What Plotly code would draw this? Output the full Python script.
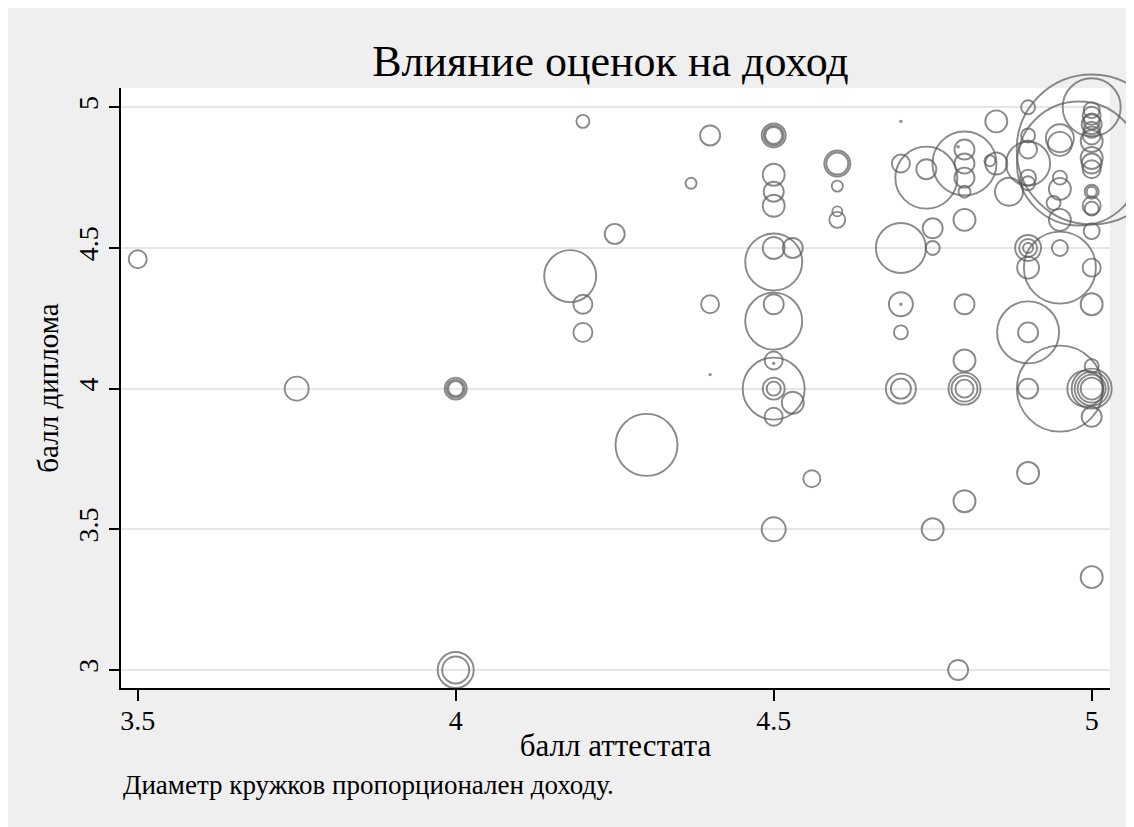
import plotly.graph_objects as go

# балл аттестата (x), балл диплома (y), доход (тыс. руб.)
attestat = [
    3.5, 3.75, 4.0, 4.0, 4.0, 4.0, 4.0, 4.18, 4.2, 4.2, 4.2, 4.25, 4.3, 4.37, 4.4, 4.4, 4.4,
    4.5, 4.5, 4.5, 4.5, 4.5, 4.5, 4.5, 4.53, 4.5, 4.5, 4.5, 4.5, 4.5, 4.5, 4.5, 4.5, 4.53, 4.5, 4.5, 4.56,
    4.6, 4.6, 4.6, 4.6, 4.6,
    4.7, 4.7, 4.7, 4.7, 4.7, 4.7, 4.7, 4.7, 4.74, 4.74, 4.75, 4.75, 4.75, 4.79,
    4.8, 4.8, 4.8, 4.8, 4.8, 4.8, 4.8, 4.8, 4.8, 4.8, 4.8, 4.8, 4.79,
    4.85, 4.85, 4.84, 4.87,
    4.9, 4.9, 4.9, 4.9, 4.9, 4.9, 4.9, 4.9, 4.9, 4.9, 4.9, 4.9, 4.9, 4.9,
    4.95, 4.95, 4.95, 4.95, 4.94, 4.95, 4.95, 4.95, 4.95, 4.98,
    5.0, 5.0, 5.0, 5.0, 5.0, 5.0, 5.0, 5.0, 5.0, 5.0, 5.0, 5.0, 5.0, 5.0, 5.0, 5.0, 5.0,
    5.0, 5.0, 5.0, 5.0, 5.0, 5.0, 5.0, 4.99, 5.0, 5.0,
]
diplom = [
    4.46, 4.0, 4.0, 4.0, 4.0, 3.0, 3.0, 4.40, 4.95, 4.30, 4.20, 4.55, 3.80, 4.73, 4.90, 4.30, 4.05,
    4.90, 4.90, 4.90, 4.76, 4.70, 4.65, 4.50, 4.50, 4.45, 4.30, 4.24, 4.10, 4.09, 4.0, 4.0, 4.0, 3.95, 3.90, 3.50, 3.68,
    4.80, 4.80, 4.72, 4.63, 4.60,
    4.95, 4.80, 4.50, 4.30, 4.30, 4.20, 4.0, 4.0, 4.75, 4.78, 4.57, 4.50, 3.50, 3.0,
    4.85, 4.80, 4.80, 4.75, 4.70, 4.60, 4.30, 4.10, 4.0, 4.0, 4.0, 3.60, 4.86,
    4.95, 4.80, 4.81, 4.70,
    5.0, 4.90, 4.85, 4.80, 4.75, 4.73, 4.50, 4.50, 4.50, 4.43, 4.20, 4.20, 4.0, 3.70,
    4.89, 4.87, 4.75, 4.71, 4.66, 4.60, 4.50, 4.43, 4.0, 4.80,
    5.0, 4.85, 4.99, 4.97, 4.95, 4.94, 4.92, 4.90, 4.88, 4.82, 4.80, 4.78, 4.70, 4.70, 4.65, 4.64, 4.56,
    4.43, 4.30, 4.08, 4.0, 4.0, 4.0, 4.0, 4.0, 3.90, 3.33,
]
dohod = [
    18, 24, 22, 18, 15, 36, 27, 52, 13, 19, 19, 20, 62, 11, 20, 18, 1.5,
    24, 20, 17, 22, 20, 22, 22, 20, 57, 20, 57, 18, 1.5, 62, 22, 14, 22, 18, 24, 17,
    26, 22, 11, 10, 16,
    1.5, 18, 50, 24, 1.5, 14, 30, 20, 62, 20, 20, 14, 22, 20,
    20, 20, 64, 20, 12, 22, 20, 22, 32, 26, 18, 22, 1.5,
    22, 22, 11, 28,
    14, 14, 18, 44, 16, 14, 26, 18, 10, 22, 62, 20, 20, 22,
    28, 24, 14, 22, 14, 22, 16, 72, 86, 124,
    58, 150, 16, 18, 16, 20, 16, 18, 22, 22, 20, 18, 14, 10, 18, 14, 16,
    18, 22, 14, 40, 34, 28, 22, 36, 20, 22,
]

x_ticks = [3.5, 4, 4.5, 5]
y_ticks = [3, 3.5, 4, 4.5, 5]
x_tick_text = ["3.5", "4", "4.5", "5"]
y_tick_text = ["3", "3.5", "4", "4.5", "5"]

FONT = "Liberation Serif"
LINE = "#5a5a5a"
BG = "#efefef"

fig = go.Figure()
fig.add_trace(go.Scatter(
    x=attestat, y=diplom, mode="markers",
    marker=dict(
        size=dohod, sizemode="diameter", sizeref=1.0,
        color="rgba(0,0,0,0)", symbol="circle",
        line=dict(color=LINE, width=1.9),
    ),
    cliponaxis=False, hoverinfo="x+y", showlegend=False,
))

W, H = 1134, 827
ML, MR, MT, MB = 113, 32, 80, 147
pw, ph = W - ML - MR, H - MT - MB

def px_x(p):
    return (p - ML) / pw

def px_y(p):
    return (H - MB - p) / ph

fig.update_layout(
    width=W, height=H,
    margin=dict(l=ML, r=MR, t=MT, b=MB, pad=0),
    paper_bgcolor=BG, plot_bgcolor="white",
    font=dict(family=FONT, color="black"),
    title=dict(
        text="Влияние оценок на доход",
        font=dict(family=FONT, size=44, color="black"),
        x=px_x(602.5), xref="paper", xanchor="center",
        y=1 - 53 / H, yref="container", yanchor="middle",
    ),
    xaxis=dict(
        range=[3.4737, 5.0288], tickvals=x_ticks, ticktext=x_tick_text,
        showgrid=False, zeroline=False,
        showline=True, linecolor="black", linewidth=2,
        ticks="outside", ticklen=11, tickwidth=2, tickcolor="black",
        ticklabelstandoff=-5,
        tickfont=dict(family=FONT, size=28, color="black"),
        title=dict(text="балл аттестата", font=dict(family=FONT, size=31, color="black"), standoff=0),
    ),
    yaxis=dict(
        range=[2.936, 5.0686], tickvals=y_ticks, ticktext=y_tick_text,
        showgrid=True, gridcolor="#e6e6e6", gridwidth=2, zeroline=False,
        showline=True, linecolor="black", linewidth=2,
        ticks="outside", ticklen=10, tickwidth=2, tickcolor="black",
        tickangle=-90,
        tickfont=dict(family=FONT, size=28, color="black"),
        title=dict(text="балл диплома", font=dict(family=FONT, size=29, color="black"), standoff=6),
    ),
    annotations=[
        dict(text="Диаметр кружков пропорционален доходу.",
             xref="paper", yref="paper", x=px_x(113), y=px_y(777),
             xanchor="left", yanchor="middle", showarrow=False,
             font=dict(family=FONT, size=27, color="black")),
    ],
)

fig.write_html("out.html")
